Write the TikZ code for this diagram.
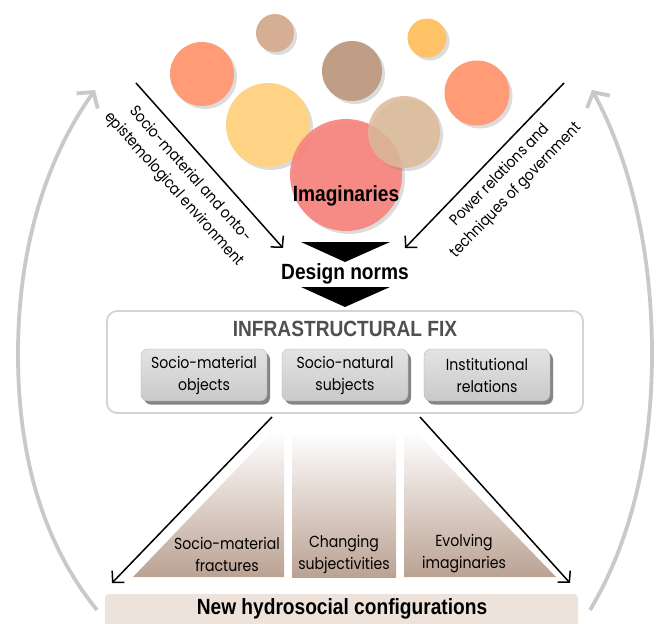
\documentclass[tikz,border=0pt]{standalone}
\usepackage{fontspec}
\newfontfamily\regf{Poppins}[FakeStretch=0.88]
\newfontfamily\condf{Liberation Sans}[FakeStretch=0.87]
\usetikzlibrary{arrows.meta,shadows}
\definecolor{corange}{HTML}{FF9B76}
\definecolor{ctan}{HTML}{D5AE94}
\definecolor{cbrown}{HTML}{C09E85}
\definecolor{cgold}{HTML}{FFC266}
\definecolor{cyellow}{HTML}{FFD386}
\definecolor{cbeige}{HTML}{DDB998}
\definecolor{cpink}{HTML}{F8847E}
\definecolor{arcgrey}{HTML}{C9C9C9}
\definecolor{boxline}{HTML}{D4D4D4}
\definecolor{shapebot}{HTML}{BBA293}
\definecolor{barfill}{HTML}{EDE3DA}
\definecolor{titlegrey}{HTML}{505050}
\tikzset{
  bubble/.style={circle, inner sep=0pt, draw=none,
    drop shadow={opacity=0.28, shadow xshift=3pt, shadow yshift=-3pt}},
  txt/.style={font=\regf\fontsize{16}{22}\selectfont, align=center, inner sep=0pt},
  slanttxt/.style={font=\regf\fontsize{15.5}{22}\selectfont, align=center, inner sep=0pt},
  boldtxt/.style={font=\condf\bfseries\fontsize{22}{24}\selectfont, inner sep=0pt},
  blackarrow/.style={draw=black, line width=1.5pt, -{Straight Barb[length=8pt,width=17pt]}},
  greyarc/.style={draw=arcgrey, line width=3.8pt, -{Straight Barb[length=11pt,width=26pt]}},
  normtri/.style={fill=black, draw=none},
  fixbox/.style={draw=boxline, line width=1.8pt, rounded corners=10pt, fill=white},
  compbox/.style={txt, draw=black!30, line width=0.4pt, rounded corners=7pt,
    top color=black!11, bottom color=black!21,
    minimum width=126pt, minimum height=52pt,
    drop shadow={opacity=0.6, shadow xshift=3pt, shadow yshift=-3.5pt, fill=black!80}},
  outshape/.style={top color=white, bottom color=shapebot, draw=none}
}
\begin{document}
\begin{tikzpicture}[x=1pt,y=-1pt]
\useasboundingbox (0,0) rectangle (670,624);

% grey feedback arcs
\coordinate (lab) at (97,610);
\coordinate (lam) at (18,354);
\coordinate (lat) at (95,90);
\coordinate (rab) at (590,610);
\coordinate (ram) at (652,354);
\coordinate (rat) at (592,90);
\draw[greyarc] (lab) .. controls (40,540) and (18,450) .. (lam)
  .. controls (18,250) and (45,160) .. (lat);
\draw[greyarc] (rab) .. controls (632,540) and (652,450) .. (ram)
  .. controls (652,250) and (630,160) .. (rat);

% bubbles
\node[bubble, fill=ctan, minimum size=38pt] (b1) at (275,33) {};
\node[bubble, fill=cgold, minimum size=39pt] (b2) at (427,38) {};
\node[bubble, fill=corange, minimum size=64pt] (b3) at (202,74) {};
\node[bubble, fill=cbrown, minimum size=60pt] (b4) at (352,71) {};
\node[bubble, fill=corange, minimum size=65pt] (b5) at (477,93) {};
\node[bubble, fill=cyellow, minimum size=84pt] (b6) at (268,125) {};
\node[bubble, fill=cpink, fill opacity=0.92, minimum size=112pt] (b7) at (346,175) {};
\node[bubble, fill=cbeige, fill opacity=0.85, minimum size=72pt] (b8) at (404,132) {};

\node[boldtxt] (imag) at (346,196) {Imaginaries};

% diagonal influences
\coordinate (ls) at (136,83);
\coordinate (le) at (283,248);
\coordinate (rs) at (564,83);
\coordinate (re) at (405,248);
\draw[blackarrow] (ls) -- (le);
\draw[blackarrow] (rs) -- (re);
\node[slanttxt, rotate=-48.3] (ltxt) at (182,182)
  {Socio-material and onto-\\epistemological environment};
\node[slanttxt, rotate=46] (rtxt) at (508,183)
  {Power relations and\\techniques of government};

% design norms
\node[boldtxt] (design) at (345,274) {Design norms};
\path[normtri] (301,242) -- (390,242) -- (345,262) -- cycle;
\path[normtri] (301,287) -- (390,287) -- (345,307) -- cycle;

% infrastructural fix
\draw[fixbox] (107,311) rectangle (583,413);
\node[boldtxt, text=titlegrey] (fix) at (345,329) {INFRASTRUCTURAL FIX};
\node[compbox] (obj) at (204,375) {Socio-material\\objects};
\node[compbox] (sub) at (345,375) {Socio-natural\\subjects};
\node[compbox] (inst) at (487,375) {Institutional\\relations};

% outcomes
\shade[outshape] (272,432) -- (284,432) -- (284,577) -- (133,577) -- cycle;
\shade[outshape] (292,432) rectangle (396,577);
\shade[outshape] (404,432) -- (416,432) -- (556,577) -- (404,577) -- cycle;
\node[txt] (frac) at (227,554) {Socio-material\\fractures};
\node[txt] (subj) at (344,554) {Changing\\subjectivities};
\node[txt] (evol) at (464,554) {Evolving\\imaginaries};

\coordinate (bls) at (272,417);
\coordinate (ble) at (112,583);
\coordinate (brs) at (420,417);
\coordinate (bre) at (570,583);
\draw[blackarrow] (bls) -- (ble);
\draw[blackarrow] (brs) -- (bre);

% new configurations
\fill[barfill, rounded corners=4pt] (105,594) rectangle (578,634);
\node[boldtxt] (newconf) at (342,609) {New hydrosocial configurations};
\end{tikzpicture}
\end{document}
